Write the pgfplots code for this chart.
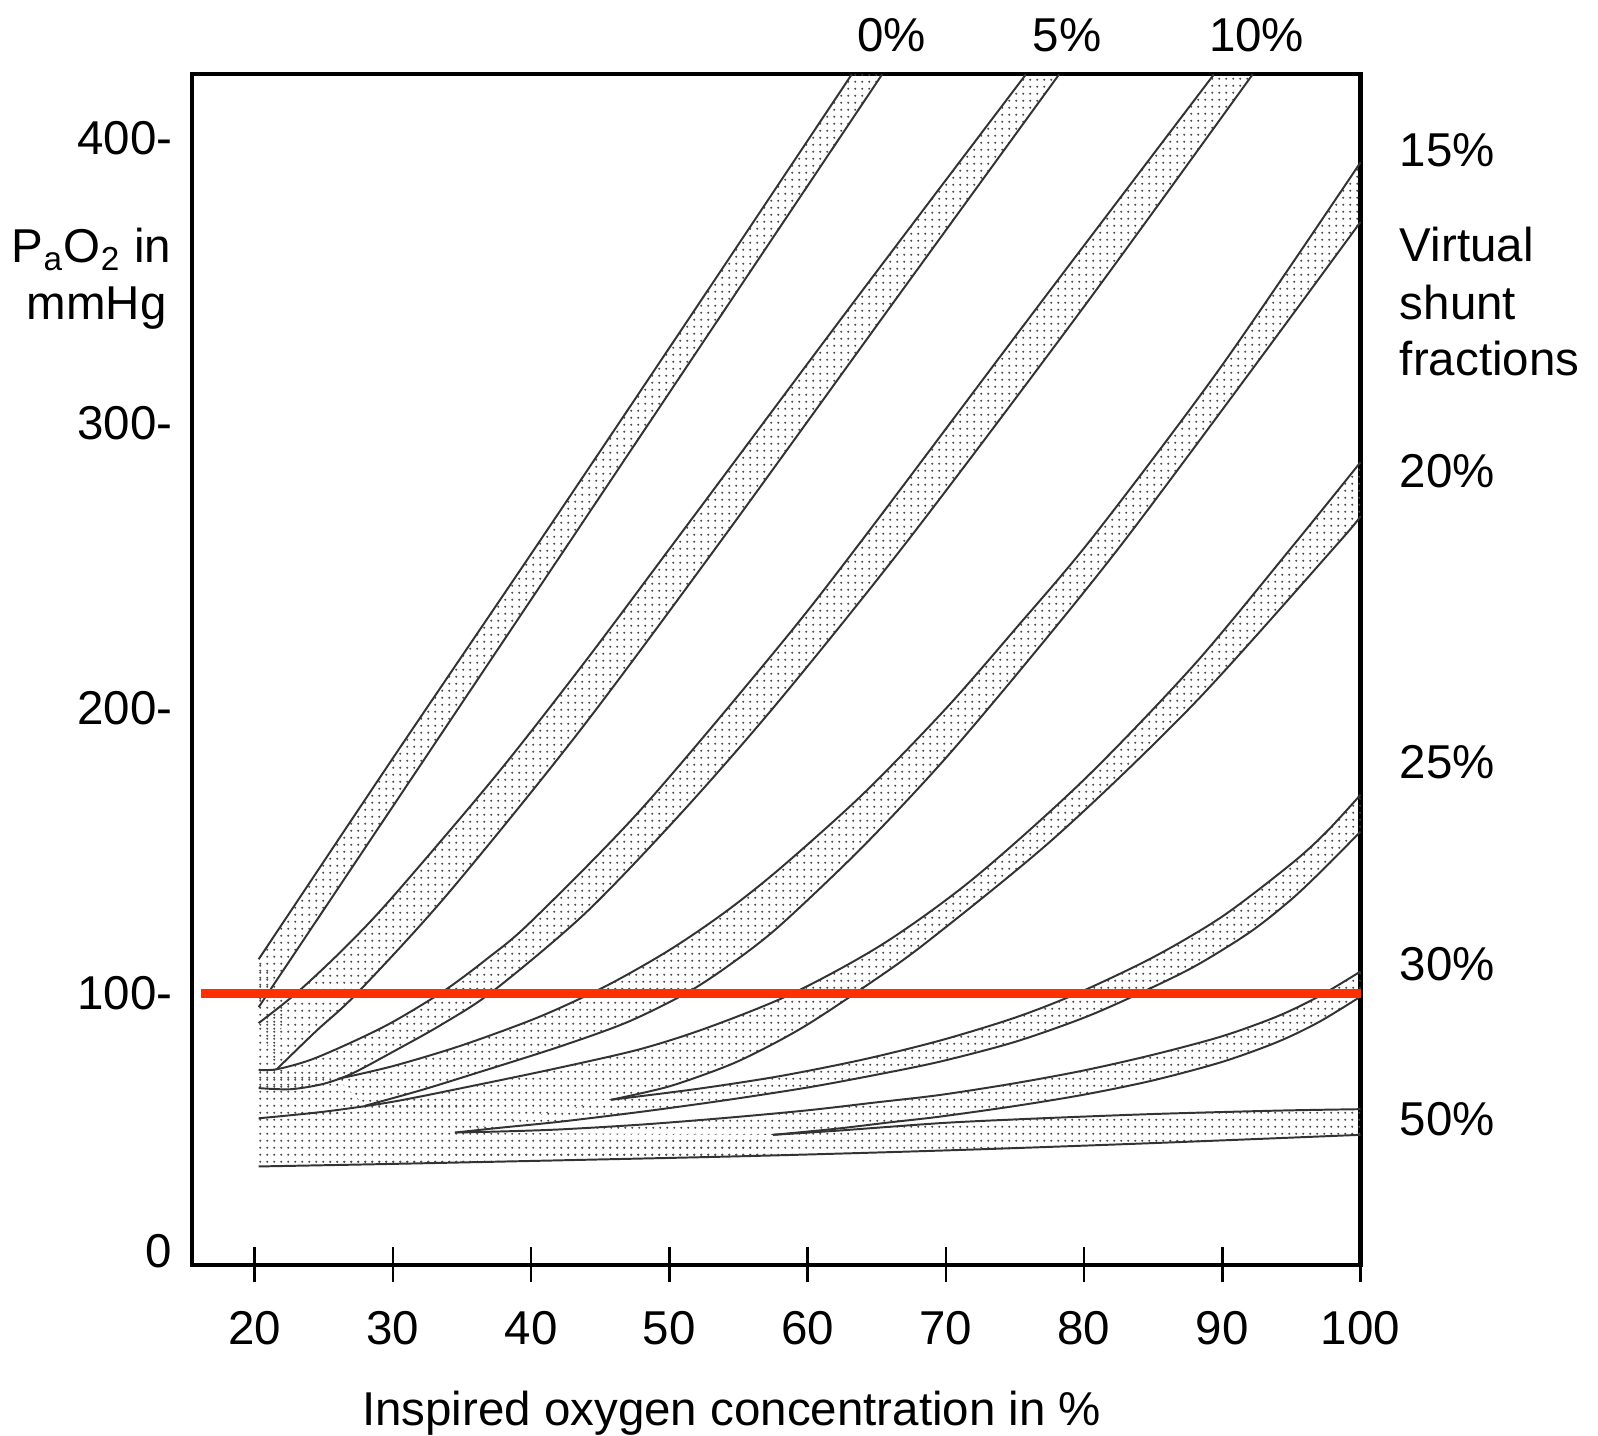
\documentclass[border=0pt]{standalone}
\usepackage{fontspec}
\setmainfont{Liberation Sans}
\usepackage{pgfplots}
\pgfplotsset{compat=1.18}
\usepgfplotslibrary{fillbetween}
\usetikzlibrary{patterns}
\pgfdeclarepatternformonly{stipple}{\pgfpointorigin}{\pgfqpoint{1.9pt}{1.9pt}}{\pgfqpoint{1.9pt}{1.9pt}}{\pgfpathcircle{\pgfqpoint{0.95pt}{0.95pt}}{0.32pt}\pgfusepath{fill}}
\definecolor{redline}{RGB}{255,48,0}
\tikzset{
  bl/.style={smooth, line width=0.55pt, color=black!80},
  st/.style={pattern=stipple, pattern color=black!70, draw=none},
  lab/.style={font=\fontsize{13.3}{16}\selectfont, inner sep=0pt},
}
\newcommand{\lf}{\fontsize{13.3}{16}\selectfont}
\begin{document}
\begin{tikzpicture}
\begin{axis}[
  set layers,
  scale only axis,
  width=327.3pt, height=333.4pt,
  xmin=15.46, xmax=100, ymin=4.77, ymax=422.5,
  clip=false,
  axis line style={line width=1.2pt, black},
  xtick={20,30,40,50,60,70,80,90,100},
  xtick pos=bottom,
  tick align=center,
  major tick length=9.8pt,
  xtick style={line width=0.7pt, black},
  ytick={9.5,100,200,300,400},
  yticklabels={0,100-,200-,300-,400-},
  ytick style={draw=none},
  ytick pos=left,
  tick label style={font=\lf},
  /pgf/number format/assume math mode=true,
  xticklabel style={anchor=center, yshift=-12.75pt},
  yticklabel style={anchor=east, xshift=3pt},
]
% ---- 0% ----
\addplot[bl, name path=u0] coordinates {(20.3,112) (30,182.5) (40.7,259.2) (52,341) (63.2,422.5)};
\addplot[bl, name path=l0] coordinates {(20.3,95.2) (30,165.6) (42.9,259.2) (54,339.8) (65.4,422.5)};
% ---- 5% ----
\addplot[bl, name path=u5] coordinates {(20.3,89.6) (23.1,100.4) (26.5,115.9) (30,133.9) (37.5,176.7) (44,217) (50.6,259.8) (63,340.4) (75.8,422.5)};
\addplot[bl, name path=l5] coordinates {(21.6,73.4) (24.5,87) (27.4,100) (33.9,134.5) (43.5,192) (53.8,259.2) (66,341) (78.2,422.5)};
% ---- 10% ----
\addplot[bl, name path=u10] coordinates {(20.3,73.2) (21.6,73.4) (24,76.6) (26.9,82.6) (30,90) (33.7,100.9) (36.8,112.1) (40,125.2) (48,164.8) (58,222.2) (64,259.4) (76.5,340) (89.4,422.5)};
\addplot[bl, name path=l10] coordinates {(20.3,66.8) (22.6,66.4) (25,68.3) (27.1,72) (30,79.5) (33.5,89) (37.3,101) (44,128.5) (51,164) (58,203) (67.3,259.2) (80,341) (92.2,422.5)};
% ---- 15% ----
\addplot[bl, name path=u15] coordinates {(26,70) (30,74.5) (35,81.8) (40.6,91.8) (45.5,102.8) (50,115.2) (54,128.4) (58,143.8) (64,169.9) (70,199.9) (75,227.7) (80.7,260.5) (90,320.5) (100,391.6)};
\addplot[bl, name path=l15] coordinates {(28,60.6) (32,66) (36,72) (42.1,81.4) (47,90) (51.3,100.3) (54.5,110.5) (58,123.8) (64,151.5) (70,182.6) (76.5,220) (82.9,258.7) (92,317.9) (100,370.7)};
% ---- 20% ----
\addplot[bl, name path=u20] coordinates {(20.3,56.2) (25,58.5) (30,62) (36,67.8) (42.1,74) (48,80.6) (53,88.4) (59,100.2) (65.5,117.5) (72,140.3) (80,175) (88,215.5) (95.1,257) (100,286.4)};
\addplot[bl, name path=l20] coordinates {(45.8,62.7) (50,67.4) (54.2,74.6) (57,81) (60,89.1) (64,101.9) (68.6,117.9) (78,155.2) (88,201.9) (98.4,258.1) (100,267.5)};
% ---- 25% ----
\addplot[bl, name path=u25] coordinates {(45.8,62.7) (52,66.5) (58,71) (64,76.8) (69.6,83.5) (75,91.5) (79.5,100) (85,112.7) (90,127) (95,145.5) (97.5,156.5) (100,169.7)};
\addplot[bl, name path=l25] coordinates {(34.5,51.2) (38,53) (42.1,55) (48,58.5) (54,62.5) (60,67) (65,71.5) (69.6,76.1) (75,83) (80,91.5) (84,100) (88,109.5) (92,121.5) (95,133) (97.5,144.5) (100,156.8)};
% ---- 30% ----
\addplot[bl, name path=u30] coordinates {(34.5,51.2) (38,51.6) (42.1,52.3) (48,54) (54,56.3) (60,59) (65,61.8) (69.6,64.4) (75,68.5) (80,73) (85,78.5) (90,85) (94,92) (97,99) (100,107.7)};
\addplot[bl, name path=l30] coordinates {(57.5,50.4) (62,52.5) (66,54.8) (69.6,56.8) (75,60.5) (80,64.5) (85,69.5) (90,76) (94,83) (97,90) (100,98.9)};
% ---- 50% ----
\addplot[bl, name path=u50] coordinates {(57.5,50.4) (62,51.8) (69.6,54.5) (75,55.8) (80,56.8) (85,57.7) (90,58.4) (95,59) (100,59.4)};
\addplot[bl, name path=l50] coordinates {(20.3,39.3) (30,40.2) (43.5,41.6) (57,43.1) (71.1,45.1) (85,47.5) (100,50.4)};
% ---- stippled bands ----
\addplot[st] fill between[of=u0 and l0];
\addplot[st] fill between[of=u5 and l5];
\addplot[st] fill between[of=u10 and l10];
\addplot[st] fill between[of=u15 and l15];
\addplot[st] fill between[of=u20 and l20];
\addplot[st] fill between[of=u25 and l25];
\addplot[st] fill between[of=u30 and l30];
\addplot[st] fill between[of=u50 and l50];
% merged region at low concentrations
\addplot[st, on layer=pre main] coordinates {(20.3,39.3) (20.3,112) (22.2,99) (21.6,73.4) (26,70) (28,60.6) (45.8,62.7) (34.5,51.2) (57.5,50.4) (57,43.1) (43.5,41.6) (30,40.2)} -- cycle;
% ---- red line ----
\addplot[redline, line width=2.4pt] coordinates {(16.1,100) (100,100)};
% ---- labels ----
\node[lab] at (axis cs:66.09,436.1) {0\%};
\node[lab] at (axis cs:78.77,436.1) {5\%};
\node[lab] at (axis cs:92.48,436.1) {10\%};
\node[lab, anchor=west] at (axis cs:102.8,395.7) {15\%};
\node[lab, anchor=west] at (axis cs:102.8,362.8) {Virtual};
\node[lab, anchor=west] at (axis cs:102.8,342.4) {shunt};
\node[lab, anchor=west] at (axis cs:102.8,322.8) {fractions};
\node[lab, anchor=west] at (axis cs:102.8,283.1) {20\%};
\node[lab, anchor=west] at (axis cs:102.8,181.2) {25\%};
\node[lab, anchor=west] at (axis cs:102.8,110.4) {30\%};
\node[lab, anchor=west] at (axis cs:102.8,56.0) {50\%};
\node[lab] at (axis cs:8.22,361.0) {P\textsubscript{a}O\textsubscript{2} in};
\node[lab] at (axis cs:8.59,340.6) {mmHg};
\node[lab] at (axis cs:54.52,-47.3) {Inspired oxygen concentration in \%};
\path (axis cs:1.59,-55.2) rectangle (axis cs:117.18,448.6);
\end{axis}
\end{tikzpicture}
\end{document}
